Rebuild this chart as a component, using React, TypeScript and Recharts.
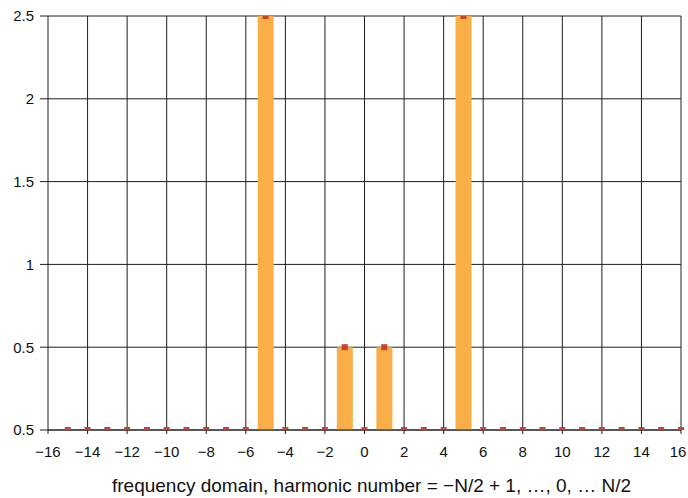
import React from 'react';
import {
  ComposedChart,
  Bar,
  Scatter,
  XAxis,
  YAxis,
  CartesianGrid,
  Label
} from 'recharts';

// harmonic numbers -N/2+1 ... N/2 (N = 32)
const harmonics = [
  -15, -14, -13, -12, -11, -10, -9, -8, -7, -6, -5, -4, -3, -2, -1, 0,
  1, 2, 3, 4, 5, 6, 7, 8, 9, 10, 11, 12, 13, 14, 15, 16
];
const amplitudes = [
  0, 0, 0, 0, 0, 0, 0, 0, 0, 0, 2.5, 0, 0, 0, 0.5, 0,
  0.5, 0, 0, 0, 2.5, 0, 0, 0, 0, 0, 0, 0, 0, 0, 0, 0
];
const xTicks = [-16, -14, -12, -10, -8, -6, -4, -2, 0, 2, 4, 6, 8, 10, 12, 14, 16];
const yTicks = [0, 0.5, 1, 1.5, 2, 2.5];
// the original figure labels its baseline "0.5"
const yTickLabels = ['0.5', '0.5', '1', '1.5', '2', '2.5'];
const xTitle = 'frequency domain, harmonic number = \u2212N/2 + 1, \u2026, 0, \u2026 N/2';

const data = harmonics.map((h, i) => ({ h, amp: amplitudes[i] }));

const font = 'Liberation Sans, Arial, Helvetica, sans-serif';

const SquareDot = (props: any) => {
  const { cx, cy } = props;
  return <rect x={cx - 3} y={cy - 3} width={6} height={6} fill="#cc4128" />;
};

// x tick; the last label is nudged in so it stays inside the picture
const XTick = (props: any) => {
  const { x, y, payload } = props;
  const v = payload.value as number;
  const text = v < 0 ? `\u2212${Math.abs(v)}` : `${v}`;
  const shift = v === 16 ? -3 : 0;
  return (
    <text
      x={x + shift}
      y={y}
      dy="0.71em"
      textAnchor="middle"
      fill="#111"
      fontSize={15}
      fontFamily={font}
    >
      {text}
    </text>
  );
};

const App: React.FC = () => {
  return (
    <div style={{ position: 'absolute', left: 0, top: 0, background: '#fff' }}>
      <ComposedChart
        width={688}
        height={498}
        data={data}
        margin={{ top: 16, right: 7, left: 0, bottom: 0 }}
      >
        <CartesianGrid stroke="#1e1e1e" strokeWidth={1} horizontalValues={yTicks} verticalValues={xTicks} />
        <XAxis
          dataKey="h"
          type="number"
          domain={[-16, 16]}
          ticks={xTicks}
          interval={0}
          height={68}
          tickSize={4}
          tickMargin={12}
          axisLine={{ stroke: '#1e1e1e' }}
          tickLine={{ stroke: '#1e1e1e' }}
          tick={<XTick />}
        >
          <Label
            value={xTitle}
            position="insideBottom"
            offset={6}
            dx={7}
            style={{ fill: '#111', fontSize: 19, fontFamily: font }}
          />
        </XAxis>
        <YAxis
          type="number"
          domain={[0, 2.5]}
          ticks={yTicks}
          interval={0}
          width={48}
          tickSize={8}
          tickMargin={6}
          axisLine={false}
          tickLine={{ stroke: '#1e1e1e' }}
          tick={{ fill: '#111', fontSize: 15, fontFamily: font }}
          tickFormatter={(v: number) => yTickLabels[yTicks.indexOf(v)] ?? `${v}`}
          allowDataOverflow
        />
        <Bar dataKey="amp" fill="#f9ae47" barSize={16} isAnimationActive={false} />
        <Scatter dataKey="amp" shape={<SquareDot />} isAnimationActive={false} />
      </ComposedChart>
    </div>
  );
};

export default App;
